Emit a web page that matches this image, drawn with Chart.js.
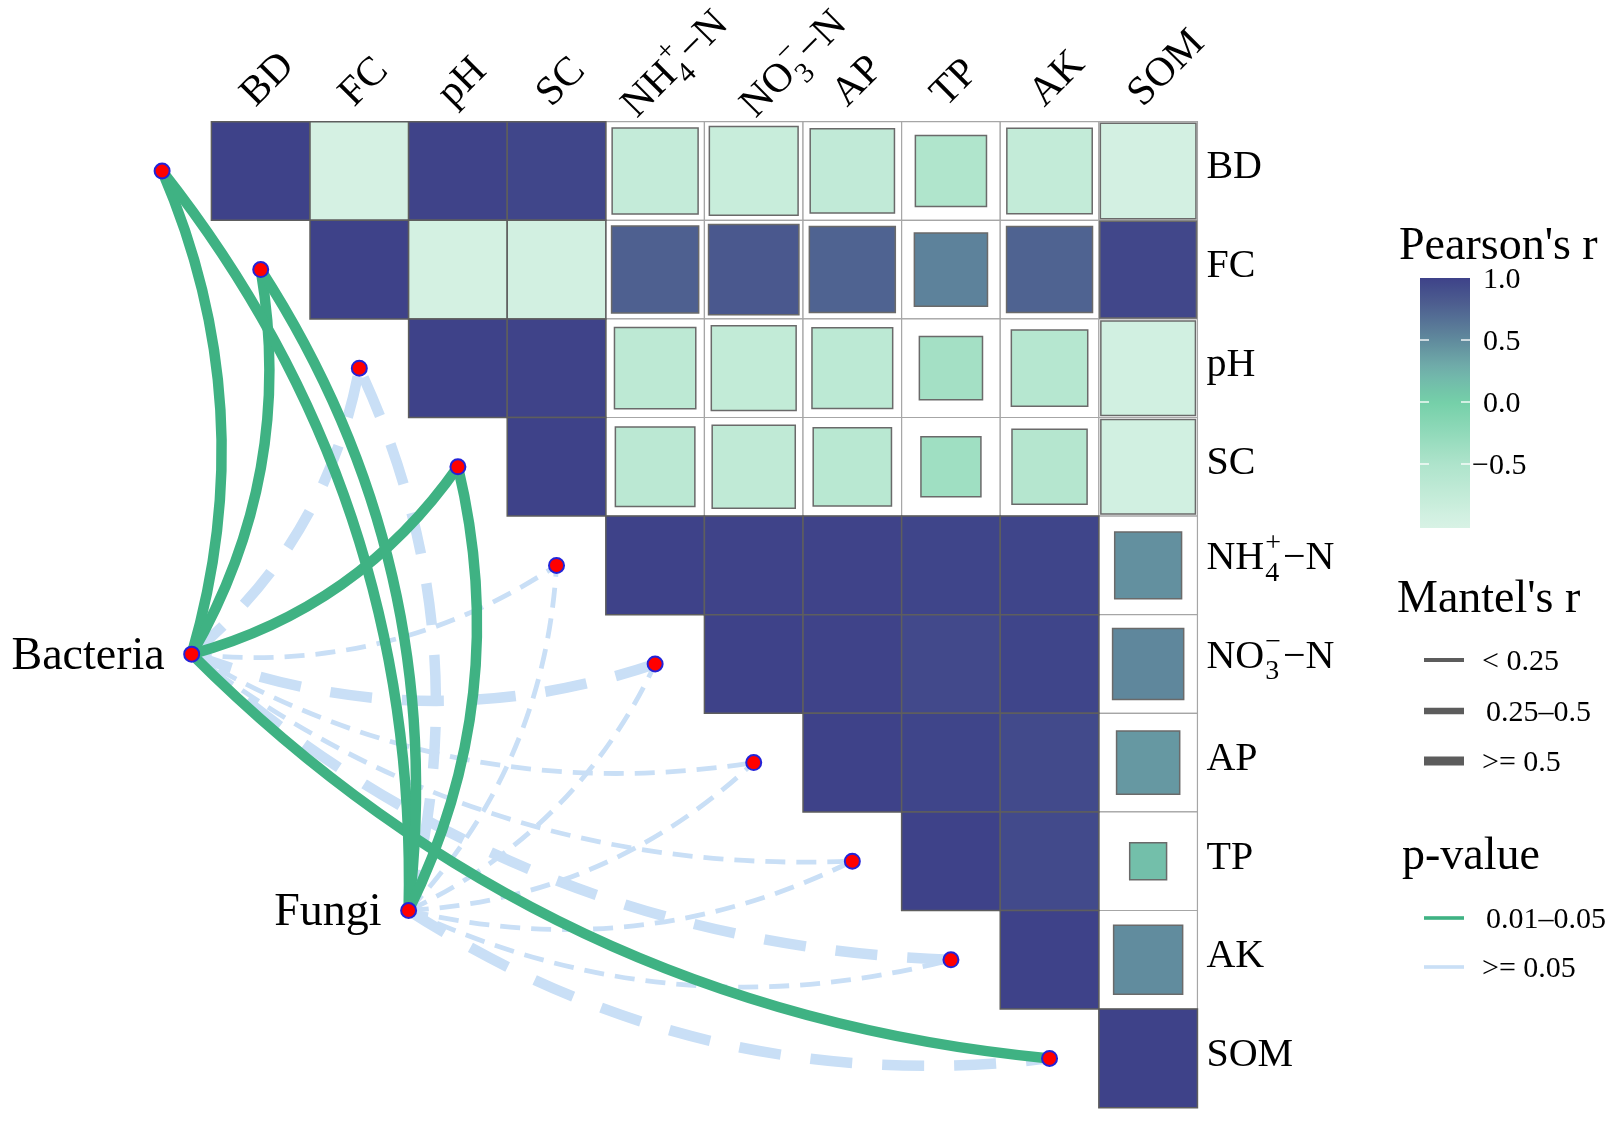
<!DOCTYPE html>
<html>
<head>
<meta charset="utf-8">
<title>Mantel test + Pearson correlation</title>
<script src="https://cdn.jsdelivr.net/npm/chart.js@4.4.1/dist/chart.umd.min.js"></script>
<style>
  html, body { margin: 0; padding: 0; background: #fff; }
  #box { width: 1617px; height: 1122px; position: relative; }
</style>
</head>
<body>
<div id="box"><canvas id="theChart"></canvas></div>
<script>
// environmental variables, order of rows / columns
const envVars = ["BD", "FC", "pH", "SC", "NH4", "NO3", "AP", "TP", "AK", "SOM"]

// Pearson's r, upper triangle, one array per row (diagonal -> SOM)
const rBD  = [1.00, -0.96, 0.99, 0.97, -0.76, -0.81, -0.73, -0.52, -0.75, -0.94]
const rFC  = [1.00, -0.95, -0.93, 0.78, 0.84, 0.76, 0.55, 0.76, 0.96]
const rPH  = [1.00, 0.99, -0.68, -0.74, -0.67, -0.41, -0.60, -0.92]
const rSC  = [1.00, -0.65, -0.71, -0.63, -0.37, -0.58, -0.92]
const rNH4 = [1.00, 0.99, 0.99, 0.98, 0.98, 0.46]
const rNO3 = [1.00, 0.99, 0.95, 0.98, 0.52]
const rAP  = [1.00, 0.98, 0.94, 0.41]
const rTP  = [1.00, 0.94, 0.14]
const rAK  = [1.00, 0.49]
const rSOM = [1.00]
const corrRows = [rBD, rFC, rPH, rSC, rNH4, rNO3, rAP, rTP, rAK, rSOM]

// Mantel test, one value per env variable (same order as envVars)
const groups = ["Bacteria", "Fungi"]
const mantelRBacteria = [0.56, 0.58, 0.52, 0.55, 0.18, 0.51, 0.16, 0.14, 0.52, 0.57]
const mantelPBacteria = [0.012, 0.015, 0.21, 0.03, 0.46, 0.12, 0.38, 0.52, 0.09, 0.02]
const mantelRFungi    = [0.57, 0.55, 0.53, 0.56, 0.17, 0.19, 0.15, 0.16, 0.18, 0.51]
const mantelPFungi    = [0.02, 0.03, 0.14, 0.04, 0.44, 0.31, 0.47, 0.55, 0.36, 0.08]

// legend texts
const pearsonTicks = [1.0, 0.5, 0.0, -0.5]
const mantelBreaks = ["< 0.25", "0.25–0.5", ">= 0.5"]
const pBreaks = ["0.01–0.05", ">= 0.05"]

// ---- layout / style (not data) ----
const X_RANGE = [-2.644, 13.755]
const Y_RANGE = [-1.734, 9.645]
const groupPos = { Bacteria: [-0.7, 4.9], Fungi: [1.5, 7.5] }
const tileBlocks = [[0, 3], [4, 8], [9, 9]]   // these blocks are drawn as full tiles
const SERIF = '"Liberation Serif", "Times New Roman", serif'
const GREEN = "#3fb283"
const PALE = "#c9dff6"
const CURVE = 0.18

const labelSpec = {
  NH4: { base: "NH", sub: "4", sup: "+", tail: "−N" },
  NO3: { base: "NO", sub: "3", sup: "−", tail: "−N" }
}
const topOffset = { NH4: [31, -3], NO3: [51, -3] }

const cmapStops = [
  [-1, [216, 242, 229]],
  [-0.5, [174, 228, 203]],
  [0, [116, 208, 168]],
  [0.25, [114, 178, 172]],
  [0.5, [96, 138, 157]],
  [0.75, [80, 100, 145]],
  [1, [62, 66, 137]]
]

function rColor(v) {
  for (let k = 0; k < cmapStops.length - 1; k++) {
    const [a, ca] = cmapStops[k]
    const [b, cb] = cmapStops[k + 1]
    if (v <= b || k === cmapStops.length - 2) {
      const t = Math.max(0, Math.min(1, (v - a) / (b - a)))
      return "rgb(" + ca.map((c, m) => Math.round(c + (cb[m] - c) * t)).join(",") + ")"
    }
  }
}

function isTile(i, j) {
  return tileBlocks.some(b => i >= b[0] && i <= b[1] && j >= b[0] && j <= b[1])
}

const widthFor = r => r < 0.25 ? 4.8 : (r < 0.5 ? 7.5 : 10.5)
const dashFor = w => w > 6 ? [42, 30] : [20, 11]

function unitPx(chart) {
  const s = chart.scales.x
  return s.getPixelForValue(1) - s.getPixelForValue(0)
}

// ---- data points ----
const cellData = []
corrRows.forEach((row, i) => {
  row.forEach((v, k) => {
    cellData.push({ x: i + k, y: i, v: v, row: i, col: i + k })
  })
})
const squareBg = cellData.filter(c => !isTile(c.row, c.col))

const nodeData = envVars.map((name, i) => ({ x: i - 1, y: i }))
groups.forEach(g => nodeData.push({ x: groupPos[g][0], y: groupPos[g][1] }))

// ---- plugins ----
const linkPlugin = {
  id: "mantelLinks",
  beforeDatasetsDraw(chart) {
    const { ctx, scales: { x, y } } = chart
    const links = []
    groups.forEach(g => {
      const rs = g === "Bacteria" ? mantelRBacteria : mantelRFungi
      const ps = g === "Bacteria" ? mantelPBacteria : mantelPFungi
      envVars.forEach((v, i) => links.push({ g, i, r: rs[i], p: ps[i] }))
    })
    // non significant lines first, green ones on top
    links.sort((a, b) => (b.p >= 0.05) - (a.p >= 0.05))

    links.forEach(l => {
      const x0 = x.getPixelForValue(groupPos[l.g][0])
      const y0 = y.getPixelForValue(groupPos[l.g][1])
      const x1 = x.getPixelForValue(l.i - 1)
      const y1 = y.getPixelForValue(l.i)
      const dx = x1 - x0, dy = y1 - y0
      const cx = (x0 + x1) / 2 - dy * CURVE
      const cy = (y0 + y1) / 2 + dx * CURVE
      const w = widthFor(l.r)
      ctx.save()
      ctx.beginPath()
      ctx.moveTo(x0, y0)
      ctx.quadraticCurveTo(cx, cy, x1, y1)
      ctx.lineWidth = w
      ctx.lineCap = "butt"
      ctx.strokeStyle = l.p < 0.05 ? GREEN : PALE
      ctx.setLineDash(l.p < 0.05 ? [] : dashFor(w))
      ctx.stroke()
      ctx.restore()
    })
  }
}

function drawRich(ctx, name, size) {
  const spec = labelSpec[name]
  ctx.font = size + "px " + SERIF
  if (!spec) {
    ctx.fillText(name, 0, 0)
    return
  }
  ctx.fillText(spec.base, 0, 0)
  let px = ctx.measureText(spec.base).width + 1
  const small = Math.round(size * 0.7)
  ctx.font = small + "px " + SERIF
  ctx.fillText(spec.sub, px, size * 0.28)
  ctx.fillText(spec.sup, px, -size * 0.45)
  px += Math.max(ctx.measureText(spec.sub).width, ctx.measureText(spec.sup).width) + 2
  ctx.font = size + "px " + SERIF
  ctx.fillText(spec.tail, px, 0)
}

const textPlugin = {
  id: "texts",
  afterDatasetsDraw(chart) {
    const { ctx, scales: { x, y } } = chart
    const gridTop = y.getPixelForValue(-0.5)
    const gridRight = x.getPixelForValue(9.5)
    ctx.save()
    ctx.fillStyle = "#000"
    ctx.textAlign = "left"
    ctx.textBaseline = "alphabetic"

    // column labels, rotated
    envVars.forEach((name, i) => {
      const off = topOffset[name] || [44, -14]
      ctx.save()
      ctx.translate(x.getPixelForValue(i - 0.5) + off[0], gridTop + off[1])
      ctx.rotate(-Math.PI / 4)
      drawRich(ctx, name, 41)
      ctx.restore()
    })

    // row labels
    envVars.forEach((name, i) => {
      ctx.save()
      ctx.translate(gridRight + 9, y.getPixelForValue(i) + (labelSpec[name] ? 4 : 7.5))
      drawRich(ctx, name, 40)
      ctx.restore()
    })

    // group labels
    ctx.font = "46px " + SERIF
    ctx.textAlign = "right"
    groups.forEach(g => {
      const gx = x.getPixelForValue(groupPos[g][0])
      const gy = y.getPixelForValue(groupPos[g][1])
      ctx.fillText(g, gx - 27, gy + 15)
    })

    // ---- legend ----
    ctx.textAlign = "left"
    ctx.font = "46px " + SERIF
    ctx.fillText("Pearson's r", 1399, 259)

    const barX = 1420, barW = 50
    const yOf = v => 402 - 124 * v
    const barTop = yOf(1), barBot = 528
    const vBot = (402 - barBot) / 124
    const grad = ctx.createLinearGradient(0, barTop, 0, barBot)
    for (let s = 0; s <= 20; s++) {
      const v = 1 + (vBot - 1) * s / 20
      grad.addColorStop(s / 20, rColor(v))
    }
    ctx.fillStyle = grad
    ctx.fillRect(barX, barTop, barW, barBot - barTop)
    ctx.strokeStyle = "rgba(255,255,255,0.9)"
    ctx.lineWidth = 1.5
    pearsonTicks.forEach(v => {
      if (v >= 1) return
      const ty = yOf(v)
      ctx.beginPath()
      ctx.moveTo(barX, ty); ctx.lineTo(barX + 9, ty)
      ctx.moveTo(barX + barW - 9, ty); ctx.lineTo(barX + barW, ty)
      ctx.stroke()
    })
    ctx.fillStyle = "#000"
    ctx.font = "30px " + SERIF
    pearsonTicks.forEach(v => {
      const txt = v < 0 ? "−" + Math.abs(v).toFixed(1) : v.toFixed(1)
      ctx.fillText(txt, v < 0 ? 1472 : 1483, yOf(v) + 10)
    })

    ctx.font = "46px " + SERIF
    ctx.fillText("Mantel's r", 1397, 612)
    const keyY = [660, 711, 761]
    const keyW = [4, 6.5, 9]
    ctx.font = "30px " + SERIF
    mantelBreaks.forEach((t, k) => {
      ctx.fillStyle = "#5c5c5c"
      ctx.fillRect(1424, keyY[k] - keyW[k] / 2, 40, keyW[k])
      ctx.fillStyle = "#000"
      ctx.fillText(t, t[0] === "0" ? 1486 : 1482, keyY[k] + 10)
    })

    ctx.font = "46px " + SERIF
    ctx.fillText("p-value", 1402, 869)
    const pY = [918, 967]
    const pCol = [GREEN, PALE]
    ctx.font = "30px " + SERIF
    pBreaks.forEach((t, k) => {
      ctx.fillStyle = pCol[k]
      ctx.fillRect(1424, pY[k] - 1.8, 40, 3.6)
      ctx.fillStyle = "#000"
      ctx.fillText(t, t[0] === "0" ? 1486 : 1482, pY[k] + 10)
    })
    ctx.restore()
  }
}

// ---- chart ----
const ctx = document.getElementById("theChart")
const theChart = new Chart(ctx, {
  type: "scatter",
  data: {
    datasets: [
      {
        label: "nodes",
        data: nodeData,
        order: 0,
        clip: false,
        pointStyle: "circle",
        pointRadius: 7.5,
        pointBackgroundColor: "#ff0000",
        pointBorderColor: "#2323d8",
        pointBorderWidth: 2
      },
      {
        label: "Pearson's r",
        data: cellData,
        order: 1,
        clip: false,
        pointStyle: "rect",
        pointRadius: c => {
          if (!c.raw) return 0
          const u = unitPx(c.chart)
          const side = isTile(c.raw.row, c.raw.col) ? u : u * Math.sqrt(Math.abs(c.raw.v))
          return side / Math.SQRT2
        },
        pointBackgroundColor: c => c.raw ? rColor(c.raw.v) : "#fff",
        pointBorderColor: c => c.raw && isTile(c.raw.row, c.raw.col) ? "#5e5e5e" : "#6a6a6a",
        pointBorderWidth: 1.5
      },
      {
        label: "cell background",
        data: squareBg,
        order: 2,
        clip: false,
        pointStyle: "rect",
        pointRadius: c => unitPx(c.chart) / Math.SQRT2,
        pointBackgroundColor: "#ffffff",
        pointBorderColor: "#a6a6a6",
        pointBorderWidth: 1.2
      }
    ]
  },
  options: {
    responsive: true,
    maintainAspectRatio: false,
    animation: false,
    events: [],
    layout: { autoPadding: false, padding: 0 },
    plugins: {
      legend: { display: false },
      tooltip: { enabled: false }
    },
    scales: {
      x: { type: "linear", display: false, min: X_RANGE[0], max: X_RANGE[1] },
      y: { type: "linear", display: false, min: Y_RANGE[0], max: Y_RANGE[1], reverse: true }
    }
  },
  plugins: [linkPlugin, textPlugin]
})
</script>
</body>
</html>
